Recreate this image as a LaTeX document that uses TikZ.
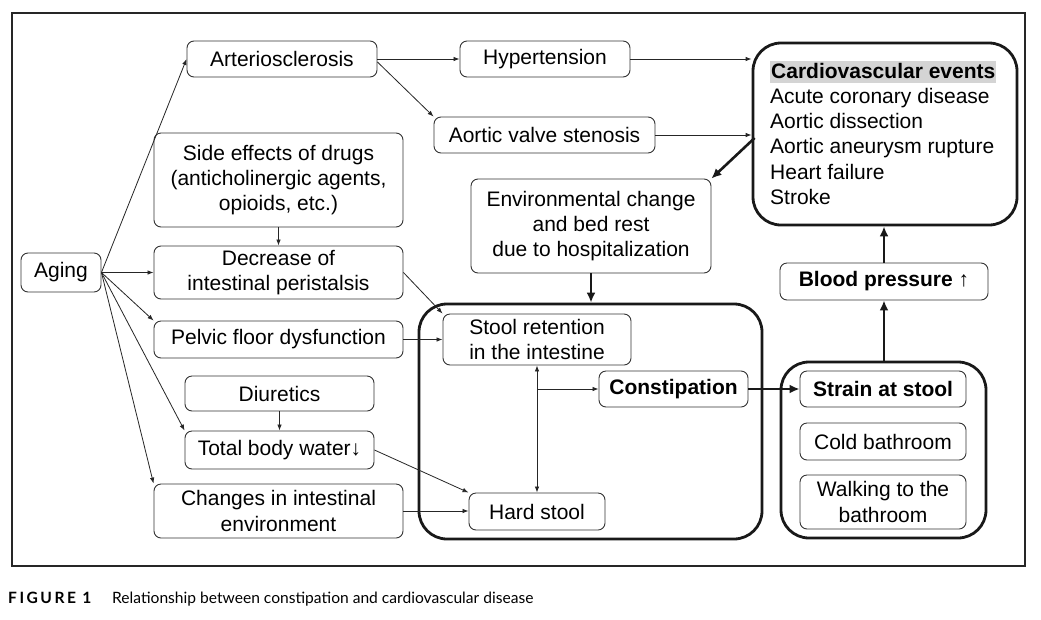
\documentclass[tikz,border=0pt]{standalone}
\usepackage{fontspec}
\setmainfont{Liberation Sans}
\newfontfamily\capfont{Lato}
\usetikzlibrary{arrows.meta,calc}
\tikzset{
  txt/.style={font=\fontsize{21}{25.3}\selectfont},
  box/.style={txt, draw=black!80, line width=0.9pt, rounded corners=7pt, align=center, inner sep=0pt},
  grp/.style={draw=black!90, line width=2.8pt, rounded corners=28pt, inner sep=0pt},
  thinarrow/.style={draw=black!85, line width=0.8pt, -{Latex[length=6pt,width=4.5pt]}},
  thickarrow/.style={draw=black!90, line width=2.6pt, -{Latex[length=10pt,width=9pt]}}
}
\begin{document}
\begin{tikzpicture}[x=1pt,y=-1pt]
\useasboundingbox (0,0) rectangle (1041,619);
\fill[white] (0,0) rectangle (1041,619);
\draw[line width=2pt, draw=black!85] (12,13) rectangle (1025,566) ;

% group boxes
\node[grp, minimum width=343, minimum height=235] (cgrp) at (590.5,421.5) {};
\node[grp, minimum width=205, minimum height=176] (sgrp) at (883.5,450) {};
\node[grp, minimum width=264, minimum height=182] (cv) at (885,134) {};

% left column
\node[box, minimum width=80, minimum height=39] (aging) at (61,272.5) {Aging};
\node[box, minimum width=190, minimum height=36] (art) at (282,59) {Arteriosclerosis};
\node[box, minimum width=170, minimum height=36] (hyp) at (545,59) {Hypertension};
\node[box, minimum width=221, minimum height=36] (avs) at (544.5,135) {Aortic valve stenosis};
\node[box, minimum width=249, minimum height=94] (side) at (278.5,180) {Side effects of drugs\\(anticholinergic agents,\\opioids, etc.)};
\node[box, minimum width=249, minimum height=53] (dec) at (278.5,272.5) {Decrease of\\intestinal peristalsis};
\node[box, minimum width=249, minimum height=37] (pel) at (278.5,339.5) {Pelvic floor dysfunction};
\node[box, minimum width=189, minimum height=35] (diu) at (279.5,393.5) {Diuretics};
\node[box, minimum width=189, minimum height=38] (tbw) at (279.5,450) {Total body water↓};
\node[box, minimum width=249, minimum height=54] (chg) at (278.5,511) {Changes in intestinal\\environment};

% middle
\node[box, minimum width=240, minimum height=94] (env) at (591,226) {Environmental change\\and bed rest\\due to hospitalization};
\node[box, minimum width=188, minimum height=51] (sr) at (537,339.5) {Stool retention\\in the intestine};
\node[box, minimum width=149, minimum height=36] (con) at (673.5,389) {\bfseries Constipation};
\node[box, minimum width=136, minimum height=37] (hs) at (537,511.5) {Hard stool};

% right
\node[box, minimum width=208, minimum height=37] (bp) at (884,281.5) {\bfseries Blood pressure ↑};
\node[box, minimum width=166, minimum height=36] (sas) at (883,389) {\bfseries Strain at stool};
\node[box, minimum width=166, minimum height=37] (cold) at (883,441.5) {Cold bathroom};
\node[box, minimum width=166, minimum height=54] (walk) at (883,502) {Walking to the\\bathroom};

% cardiovascular events text
\node[txt, anchor=base west, fill=black!17, inner xsep=1pt, inner ysep=0pt, text height=17pt, text depth=5pt] (cvt) at (770,78) {\bfseries Cardiovascular events};
\node[txt, anchor=north west, align=left, inner sep=0pt] (cvl) at (770,87.8) {Acute coronary disease\\Aortic dissection\\Aortic aneurysm rupture\\Heart failure\\Stroke};

% thin connectors
\draw[thinarrow] (aging.east) -- (art.west);
\draw[thinarrow] (aging.east) -- (dec.west);
\draw[thinarrow] (aging.east) -- (pel.north west);
\draw[thinarrow] (aging.east) -- (tbw.north west);
\draw[thinarrow] (aging.east) -- (chg.north west);
\draw[thinarrow] (side.south) -- (dec.north);
\draw[thinarrow] (diu.south) -- (tbw.north);
\draw[thinarrow] (art.east) -- (hyp.west);
\draw[thinarrow] ([yshift=-3pt]art.east) -- (avs.north west);
\draw[thinarrow] (hyp.east) -- (hyp.east -| cv.west);
\draw[thinarrow] (avs.east) -- (avs.east -| cv.west);
\draw[thinarrow] (dec.east) -- (sr.north west);
\draw[thinarrow] (pel.east) -- (pel.east -| sr.west);
\draw[thinarrow] (tbw.east) -- (hs.north west);
\draw[thinarrow] (chg.east) -- (chg.east -| hs.west);
\draw[thinarrow, {Latex[length=6pt,width=4.5pt]}-{Latex[length=6pt,width=4.5pt]}] (sr.south) -- (hs.north);
\coordinate (br) at (sr.south |- con.west);
\draw[thinarrow] (br) -- (con.west);

% thick connectors
\coordinate (cvout) at ([shift={(3,4)}]cv.west);
\draw[thickarrow] (cvout) -- (env.north east);
\draw[thickarrow] (env.south) -- (env.south |- cgrp.north);
\draw[thickarrow] (con.east) -- (sas.west);
\draw[thickarrow] (sgrp.north -| bp.south) -- (bp.south);
\draw[thickarrow] (bp.north) -- (bp.north |- cv.south);

% caption
\node[anchor=base west, inner sep=0pt, font=\capfont\fontsize{15.6}{18}\selectfont\bfseries\addfontfeatures{LetterSpace=16}] (figlab) at (8,603) {FIGURE 1};
\node[anchor=base west, inner sep=0pt, font=\capfont\fontsize{15.6}{18}\selectfont] (captxt) at (112,603) {Relationship between constipation and cardiovascular disease};
\end{tikzpicture}
\end{document}
